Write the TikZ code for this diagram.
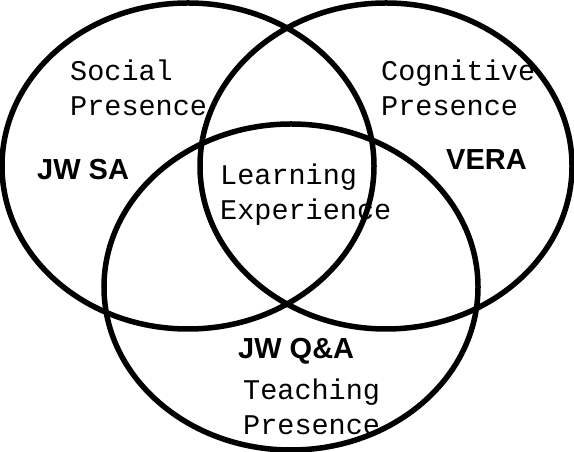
\documentclass[tikz,border=0pt]{standalone}
\usepackage{fontspec}
\usepackage{tikz}
\usetikzlibrary{shapes.geometric, positioning}
\newfontfamily\presfont{Liberation Mono}
\newfontfamily\toolfont{Liberation Sans}
\tikzset{
  venn/.style={
    ellipse, draw=black, line width=5.5bp, inner sep=0pt,
    minimum width=#1, minimum height=326bp
  },
  presence/.style={
    anchor=base west, inner sep=0pt, align=left,
    font=\presfont\fontsize{28.5bp}{35bp}\selectfont
  },
  tool/.style={
    anchor=base west, inner sep=0pt,
    font=\toolfont\bfseries\fontsize{29bp}{34bp}\selectfont
  }
}
\begin{document}
\begin{tikzpicture}[x=1bp, y=1bp]
\useasboundingbox (0,0) rectangle (574,452);

% the three presences
\node[venn=372bp] (social) at (188,286) {};
\node[venn=372bp] (cognitive) at (386,286) {};
\node[venn=374bp] (teaching) at (291,165) {};

% labels (base = last line)
\node[presence] (socialtxt) at (70,336) {Social\\Presence};
\node[presence] (cogtxt) at (381,336) {Cognitive\\Presence};
\node[presence] (learntxt) at (220,232) {Learning\\Experience};
\node[presence] (teachtxt) at (243,17) {Teaching\\Presence};

% tools
\node[tool] (jwsa) at (37,272) {JW SA};
\node[tool] (vera) at (446,282) {VERA};
\node[tool] (jwqa) at (238,93) {JW Q\&A};

\end{tikzpicture}
\end{document}
